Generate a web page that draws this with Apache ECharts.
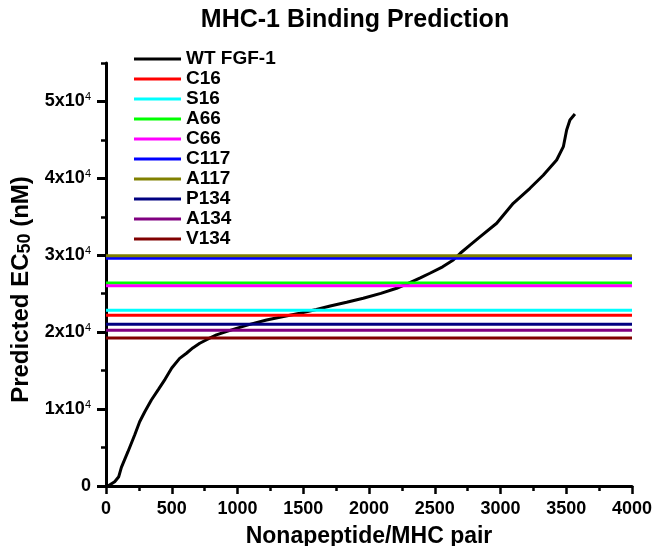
<!DOCTYPE html>
<html>
<head>
<meta charset="utf-8">
<script src="https://cdn.jsdelivr.net/npm/echarts@6/dist/echarts.min.js"></script>
<style>
html,body{margin:0;padding:0;background:#fff;}
#chart{width:653px;height:546px;}
</style>
</head>
<body>
<div id="chart"></div>
<script>
// ---- Data ----
var titleText = 'MHC-1 Binding Prediction';
var xTitle = 'Nonapeptide/MHC pair';
var wtName = 'WT FGF-1';
var wtX = [15, 66, 97, 117, 167, 218, 256, 295, 345, 400, 450, 500, 560, 612, 660, 713, 780, 840, 920, 992, 1100, 1221, 1350, 1474, 1600, 1705, 1830, 1956, 2090, 2210, 2311, 2390, 2463, 2560, 2641, 2694, 2770, 2846, 2971, 3097, 3224, 3325, 3427, 3478, 3503, 3528, 3566];
var wtY = [0, 560, 1210, 2430, 4460, 6630, 8360, 9660, 11180, 12600, 13900, 15350, 16600, 17260, 17950, 18560, 19150, 19640, 20100, 20500, 21050, 21590, 22050, 22460, 22950, 23400, 23900, 24410, 25050, 25710, 26440, 27050, 27660, 28500, 29390, 30260, 31350, 32420, 34160, 36760, 38710, 40400, 42390, 44120, 46290, 47590, 48370];
var mutantNames = ['C16', 'S16', 'A66', 'C66', 'C117', 'A117', 'P134', 'A134', 'V134'];
var mutantValues = [22200, 22850, 26400, 26050, 29610, 29950, 21030, 20250, 19250];
var mutantColors = ['#ff0000', '#00ffff', '#00ff00', '#ff00ff', '#0000ff', '#808000', '#000080', '#800080', '#800000'];
var lineXRange = [0, 4000];
var yMax = 55000;
var yStep = 10000;
var yMajorTicks = [0, 10000, 20000, 30000, 40000, 50000];
var yMinorTicks = [5000, 15000, 25000, 35000, 45000, 55000];

// ---- Chart ----
var FONT = '"Liberation Sans", Arial, sans-serif';
var chart = echarts.init(document.getElementById('chart'), null, {renderer: 'canvas'});

var series = [];
series.push({
  name: wtName,
  type: 'line',
  color: '#000000',
  showSymbol: false,
  symbol: 'none',
  lineStyle: {width: 3, color: '#000000'},
  data: wtX.map(function (x, i) { return [x, wtY[i]]; }),
  z: 2
});
mutantNames.forEach(function (n, i) {
  series.push({
    name: n,
    type: 'line',
    color: mutantColors[i],
    showSymbol: false,
    symbol: 'none',
    lineStyle: {width: 3, color: mutantColors[i]},
    data: lineXRange.map(function (x) { return [x, mutantValues[i]]; }),
    z: 2
  });
});

var option = {
  backgroundColor: '#ffffff',
  animation: false,
  title: {
    text: titleText,
    left: 350,
    top: 3,
    textAlign: 'center',
    textStyle: {fontFamily: FONT, fontSize: 25, fontWeight: 'bold', color: '#000'}
  },
  legend: {
    orient: 'vertical',
    left: 129,
    top: 44,
    icon: 'rect',
    itemWidth: 47,
    itemHeight: 3,
    itemGap: 0,
    data: [wtName].concat(mutantNames),
    textStyle: {fontFamily: FONT, fontSize: 19, fontWeight: 'bold', color: '#000', lineHeight: 20}
  },
  grid: {left: 106, right: 21, top: 63, bottom: 60, containLabel: false, outerBoundsMode: 'none'},
  xAxis: {
    type: 'value',
    min: 0,
    max: 4000,
    interval: 500,
    name: xTitle,
    nameLocation: 'middle',
    nameGap: 39,
    nameTextStyle: {fontFamily: FONT, fontSize: 23, fontWeight: 'bold', color: '#000'},
    axisLine: {show: true, onZero: false, lineStyle: {color: '#000', width: 3}},
    axisTick: {show: true, length: 8, lineStyle: {color: '#000', width: 2.5}},
    minorTick: {show: true, splitNumber: 2, length: 5, lineStyle: {color: '#000', width: 2.5}},
    splitLine: {show: false},
    axisLabel: {
      fontFamily: FONT, fontSize: 18, fontWeight: 'bold', color: '#000', margin: 14,
      formatter: function (v) { return String(v); }
    }
  },
  yAxis: [{
    type: 'value',
    min: 0,
    max: yMax,
    position: 'left',
    name: '{a|Predicted EC}{b|50}{a| (nM)}',
    nameLocation: 'middle',
    nameGap: 69,
    nameTextStyle: {
      fontFamily: FONT, fontSize: 24, fontWeight: 'bold', color: '#000',
      padding: [0, 30, 0, 0],
      rich: {
        a: {fontFamily: FONT, fontSize: 24, fontWeight: 'bold', color: '#000', lineHeight: 26},
        b: {fontFamily: FONT, fontSize: 18, fontWeight: 'bold', color: '#000', verticalAlign: 'bottom', padding: [12, 0, 0, 0], lineHeight: 20}
      }
    },
    axisLine: {show: true, onZero: false, lineStyle: {color: '#000', width: 3}},
    axisTick: {show: true, length: 5, customValues: yMinorTicks, lineStyle: {color: '#000', width: 2.5}},
    splitLine: {show: false},
    axisLabel: {
      customValues: yMajorTicks,
      margin: 15,
      formatter: function (v) {
        if (v === 0) return '{b|0}';
        return '{b|' + (v / yStep) + 'x10}{s|4}';
      },
      rich: {
        b: {fontFamily: FONT, fontSize: 18, fontWeight: 'bold', color: '#000', lineHeight: 20},
        s: {fontFamily: FONT, fontSize: 11, color: '#000', verticalAlign: 'top', lineHeight: 12, padding: [0, 0, 8, 0]}
      }
    }
  }, {
    type: 'value',
    min: 0,
    max: yMax,
    position: 'left',
    offset: 0,
    axisLine: {show: false},
    axisTick: {show: true, length: 9, customValues: yMajorTicks, lineStyle: {color: '#000', width: 3}},
    axisLabel: {show: false},
    splitLine: {show: false}
  }],
  series: series
};
chart.setOption(option);
</script>
</body>
</html>
